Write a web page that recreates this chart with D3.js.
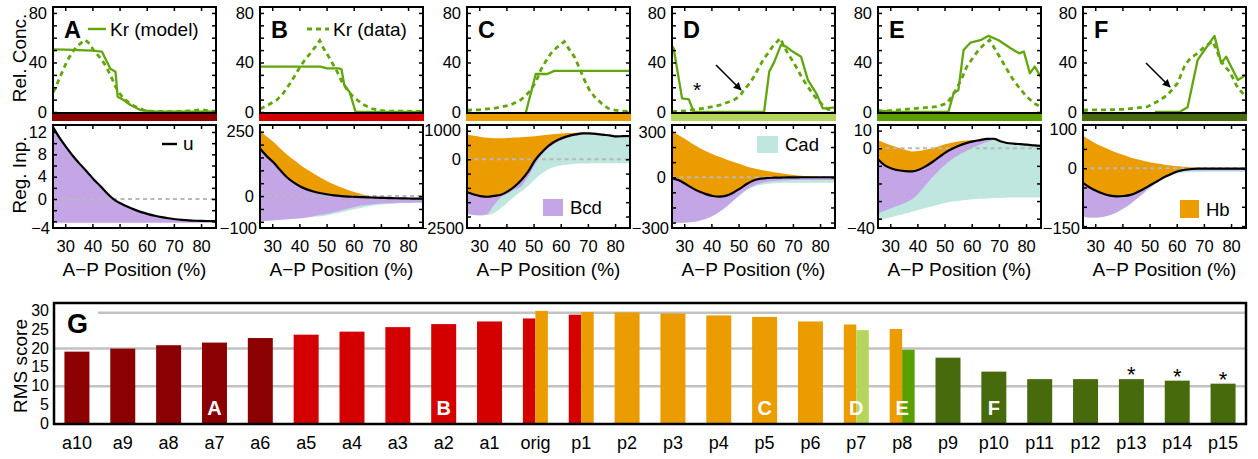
<!DOCTYPE html>
<html>
<head>
<meta charset="utf-8">
<script src="https://cdn.jsdelivr.net/npm/d3@7"></script>
<style>
body { margin: 0; background: #fff; }
text { font-family: "Liberation Sans", Arial, sans-serif; }
</style>
</head>
<body>
<svg id="chart" width="1258" height="459"></svg>
<script>
// ---------- Kr profiles (top row), [A-P position %, relative concentration] ----------
var krModelA = [[25.5,50.5],[30,50.3],[35,50],[40,49.5],[43.5,48.8],[46.6,35],[48.5,32.6],[49.3,12.4],[51.5,9.7],[54,5.7],[57.7,1.6],[62,0.5],[70,0.3],[85.5,0.3]];
var krDataA = [[25.5,16],[26.2,18.3],[28,28],[30.6,40.7],[32.5,48],[34.3,52.8],[36,56],[37.4,58.2],[39,55],[40.4,50],[42,46],[43.5,42],[45,37],[46.6,30],[48.5,20.5],[50,15],[51.5,11],[53.5,7.5],[55.3,4.9],[58.9,1.6],[62,0.5],[70,0.3],[76,0.8],[80,2],[83,0.8],[85.5,0.5]];
var krModelB = [[25.5,36.7],[40,36.7],[47.7,36.7],[50.2,35.3],[54.5,35.3],[55.5,34.5],[56.5,22],[57.5,19],[58.5,16],[60.7,0],[85.5,0]];
var krDataB = [[25.5,2.5],[28,5],[31.7,9.7],[34,15],[36.6,23.2],[38.5,30],[40.3,36.7],[42,42],[44,47.4],[46,53],[47.5,57.7],[49,51],[50.8,44.7],[52.5,38],[53.9,32.6],[55.5,25],[57.6,17.8],[59.5,13],[61.3,9.7],[63.5,6],[66.2,3],[69,1.5],[72.4,0.8],[85.5,0.5]];
var krModelC = [[47.1,-1],[50.8,30.7],[55.1,30.7],[57.6,33.2],[85.5,33.2]];
var krDataC = [[25.5,1.6],[30,1.8],[35.4,3],[41.5,5.7],[45.2,9.7],[47,13],[49,17.8],[51,25],[52.7,34],[54.5,41],[56.4,47.4],[58.5,52],[61.3,56.9],[63,51],[65,44.7],[67,35],[68.7,25.9],[70.5,18],[72.4,12.4],[75,7],[77.4,3],[80,1.5],[82.3,0.8],[85.5,0.5]];
var krModelD = [[25.5,53],[26.1,51.5],[29.2,11],[31.7,10.2],[33.5,0],[59.4,0],[61.3,32.6],[63.2,40.7],[65.6,54.2],[67.5,52.8],[69.9,48.8],[73,44.7],[75.5,25.9],[78.6,15.1],[81,3],[82.3,3],[85.5,3.8]];
var krDataD = [[25.5,0.3],[30,0.8],[37.2,3],[43.4,5.7],[48.3,9.7],[50.5,13],[52,17.8],[54,23],[55.7,28.6],[57.5,36],[59.4,43.4],[61,48],[62.5,52.8],[65.4,59.6],[66.5,54],[68.1,47.4],[70,41],[71.8,34],[73.5,27],[75.5,20.5],[77.5,14],[79.2,9.7],[81,5.5],[82.9,2.2],[85.5,1.5]];
var krModelE = [[25.5,1.6],[27.5,0.8],[30,0.3],[51.4,0],[53.3,15],[55.1,17.8],[57,50],[59.5,56],[63.2,58],[66.2,61.5],[69.9,58],[74.3,51.5],[77.4,47.4],[79.2,48.8],[81.4,31.3],[83.2,36.7],[85.5,28]];
var krDataE = [[25.5,0.3],[32.3,1.6],[39.7,3],[47.1,4.3],[50.8,7],[52.5,12],[54.5,19],[56.5,28],[58.2,36.7],[60.5,44],[62.5,50],[64.5,54.5],[66.6,58.2],[68.5,51],[70.6,43.4],[72.8,35],[74.9,27.2],[77,21],[79.2,15],[81,11],[82.9,7],[85.5,4]];
var krModelF = [[52,0],[61,0],[64,3.8],[67.7,42],[70.2,50],[72,55.5],[73.9,61.5],[76.4,39.4],[78.2,44.7],[82.5,25.9],[85.5,30]];
var krDataF = [[25.5,1.6],[35,1.8],[40.6,2.2],[49.2,4.3],[52.9,8.4],[56.6,13.7],[60.3,23.2],[62.8,36.7],[64.5,42],[65.9,44.7],[68,48],[70.2,52.8],[73.3,56.9],[75,48],[76.4,40.7],[78,36],[79.5,32.6],[81,26],[81.9,21.8],[83.5,17],[85.5,12.4]];

// ---------- regulatory input (bottom row), sampled on gridX ----------
var gridX = [25.5,28,30.5,33,35.5,38,40.5,43,45.5,48,50.5,53,55.5,58,60.5,63,65.5,68,70.5,73,75.5,78,80.5,83,85.5];

var uA     = [12.9,10.9,9.2,7.6,6.2,4.9,3.5,2.3,1.0,-0.1,-0.8,-1.4,-1.9,-2.35,-2.7,-3.0,-3.25,-3.45,-3.62,-3.74,-3.83,-3.89,-3.92,-3.94,-3.95];
var bcdLoA = [-4.25,-4.25,-4.25,-4.25,-4.25,-4.25,-4.25,-4.25,-4.25,-4.25,-4.25,-4.25,-4.25,-4.25,-4.25,-4.25,-4.25,-4.25,-4.25,-4.25,-4.25,-4.25,-4.25,-4.25,-4.25];

var uB     = [185,155,130,100,72,52,36,25,17,11,6,3,0,-2,-3,-4,-5,-6,-7,-8,-8.5,-9,-9.5,-10,-10];
var hbTopB = [255,230,210,185,160,140,120,102,86,70,56,44,33,23,15,7,0,-6,-7,-8,-8.5,-9,-9.5,-10,-10];
var bcdLoB = [-97,-96,-94,-92,-90,-88,-86,-82,-77,-73,-68,-62,-55,-48,-42,-37,-34,-31,-29,-28,-27,-26,-26,-25,-25];
var cadLoB = [-97,-96,-94,-92,-90,-88,-86,-83,-80,-78,-74,-69,-63,-56,-50,-45,-40,-36,-33,-31,-29,-28,-27,-26,-26];

var uC     = [-1150,-1230,-1290,-1310,-1280,-1240,-1120,-950,-720,-430,-40,240,470,630,740,820,870,905,905,890,860,835,800,810,815];
var hbTopC = [860,820,780,750,735,735,745,760,775,790,810,830,855,880,905,920,930,935,905,890,860,835,800,810,815];
var bcdLoC = [-1900,-1950,-1960,-1900,-1600,-1330,-1200,-1060,-940,-600,-200,150,400,560,680,760,820,870,905,890,860,835,800,810,815];
var cadLoC = [-1900,-1950,-1960,-1950,-1880,-1700,-1500,-1300,-1120,-930,-700,-500,-350,-260,-210,-180,-160,-150,-145,-142,-140,-140,-140,-140,-140];

var uD     = [-5,-20,-45,-72,-95,-112,-124,-128,-122,-102,-75,-45,-22,-10,-5,-3,-2,-1,-1,0,0,0,0,0,0];
var hbTopD = [305,278,252,222,195,173,153,135,118,102,87,72,60,50,41,33,26,20,15,10,6,3,1,0,0];
var bcdLoD = [-300,-302,-300,-296,-288,-275,-255,-228,-195,-155,-115,-80,-55,-40,-30,-24,-21,-19,-18,-18,-18,-18,-18,-18,-18];
var cadLoD = [-300,-302,-300,-296,-288,-275,-255,-228,-195,-158,-120,-87,-65,-52,-45,-40,-38,-37,-36,-36,-36,-36,-36,-36,-36];

var uE     = [-6.3,-9.7,-11.5,-12.5,-13,-13.1,-12.2,-10.3,-7.8,-5,-2.3,-0.2,1.6,2.9,3.9,4.6,5.3,5.4,4,3,2.6,2.3,2,1.6,1.3];
var hbTopE = [4.5,3,1.5,0.3,-0.8,-1.8,-1.5,-0.8,0,1.2,2.4,3.3,4,4.4,4.7,5,5.4,5.5,4,3,2.6,2.3,2,1.6,1.3];
var bcdLoE = [-37,-35.5,-34,-32.5,-31,-29,-25.5,-21,-16.5,-12.5,-9,-6,-3.5,-1.5,0.5,2,3.5,4.5,4,3,2.6,2.3,2,1.6,1.3];
var cadLoE = [-40.5,-40,-39,-38,-37,-36,-35,-34,-33,-32,-31,-30.3,-29.8,-29.4,-29,-28.7,-28.5,-28.3,-28.2,-28,-28,-28,-28,-28,-28];

var uF     = [-38,-50,-59,-66,-71,-73,-72,-69,-62,-53,-43,-33,-23,-15,-8,-4,-2,-1,-1,-1,-1,-1,-1,-1,-1];
var hbTopF = [85,73,63,55,47,40,34,28,23,19,15,12,9,7,5,3.5,2.5,1.5,0.8,0,-0.5,-1,-1,-1,-1];
var bcdLoF = [-125,-128,-128,-126,-121,-114,-104,-92,-78,-63,-48,-34,-22,-14,-9,-7,-6,-6,-6,-6,-6,-6,-6,-6,-6];
var cadLoF = [-125,-128,-128,-126,-121,-114,-104,-92,-78,-64,-50,-37,-26,-18,-13,-11,-10,-10,-9,-9,-9,-9,-9,-9,-9];

// tick labels
var xTickLabels = [30, 40, 50, 60, 70, 80];
var topTickLabels = [0, 40, 80];
var botTickLabels = [[12, 8, 4, 0], [250, 0], [1000, 0], [300, 0], [10, 0], [100, 0]];
var botMinLabels = ["\u22124", "\u2212100", "\u22122500", "\u2212300", "\u221240", "\u2212150"];

// ---------- RMS scores (panel G) ----------
var categories = ["a10","a9","a8","a7","a6","a5","a4","a3","a2","a1","orig","p1","p2","p3","p4","p5","p6","p7","p8","p9","p10","p11","p12","p13","p14","p15"];
var rmsMain  = [19.2,20.0,20.9,21.6,22.8,23.7,24.5,25.7,26.5,27.2,28.0,29.0,29.6,29.3,28.8,28.4,27.2,26.4,25.2,17.6,13.9,11.9,11.9,11.9,11.5,10.7];
var rmsSplit = [null,null,null,null,null,null,null,null,null,null,30.0,29.7,null,null,null,null,null,24.9,19.7,null,null,null,null,null,null,null];
var rmsRefLine = 29.5;
var barLetters = {a7: "A", a2: "B", p5: "C", p7: "D", p8: "E", p10: "F"};
var starred = ["p13", "p14", "p15"];

// ---------- styles / layout ----------
var C = {
  dkred: "#8b0000", red: "#d40000", orange: "#eb9c00",
  ltgreen: "#b5d65a", green: "#5a9e00", dkgreen: "#466a0c",
  kr: "#62a60e", bcd: "#c4a5e6", cad: "#bfe6df", hb: "#eb9c00"
};
var mainColor  = [C.dkred,C.dkred,C.dkred,C.dkred,C.dkred,C.red,C.red,C.red,C.red,C.red,C.red,C.red,
                  C.orange,C.orange,C.orange,C.orange,C.orange,C.orange,C.orange,
                  C.dkgreen,C.dkgreen,C.dkgreen,C.dkgreen,C.dkgreen,C.dkgreen,C.dkgreen];
var splitColor = {orig: C.orange, p1: C.orange, p7: C.ltgreen, p8: C.green};
var stripColor = [C.dkred, C.red, C.orange, C.ltgreen, C.green, C.dkgreen];

var panels = [
  {name: "A", model: krModelA, data: krDataA, u: uA, bcdLo: bcdLoA},
  {name: "B", model: krModelB, data: krDataB, u: uB, hbTop: hbTopB, bcdLo: bcdLoB, cadLo: cadLoB},
  {name: "C", model: krModelC, data: krDataC, u: uC, hbTop: hbTopC, bcdLo: bcdLoC, cadLo: cadLoC},
  {name: "D", model: krModelD, data: krDataD, u: uD, hbTop: hbTopD, bcdLo: bcdLoD, cadLo: cadLoD},
  {name: "E", model: krModelE, data: krDataE, u: uE, hbTop: hbTopE, bcdLo: bcdLoE, cadLo: cadLoE},
  {name: "F", model: krModelF, data: krDataF, u: uF, hbTop: hbTopF, bcdLo: bcdLoF, cadLo: cadLoF}
];
var panelLeft = [53, 260, 467, 672, 878, 1083];
var panelW = 163;
var top0 = 7, top1 = 113, bot0 = 125, bot1 = 228;
var botDomain = [[-5.19, 13.25], [-124, 276], [-2402, 1199], [-336, 346], [-45.3, 13.2], [-155, 112]];
var botMinor = [2, 50, 500, 100, 10, 50];

var svg = d3.select("#chart");

function ticksInward(g, axis) {
  g.call(axis);
  g.select(".domain").remove();
  g.selectAll(".tick line").attr("stroke", "#000").attr("stroke-width", 1.5);
  g.selectAll(".tick text").attr("font-size", 16.5).attr("fill", "#000")
    .style("font-family", '"Liberation Sans", Arial, sans-serif');
}

panels.forEach(function (p, i) {
  var L = panelLeft[i], R = L + panelW;
  var x = d3.scaleLinear().domain([25.5, 85.5]).range([L, R]);
  var yT = d3.scaleLinear().domain([-0.8, 84.8]).range([top1, top0]);
  var yB = d3.scaleLinear().domain(botDomain[i]).range([bot1, bot0]);
  var g = svg.append("g");

  // ---- top panel ----
  var clipT = "clipT" + i, clipB = "clipB" + i;
  svg.append("clipPath").attr("id", clipT).append("rect")
    .attr("x", L).attr("y", top0).attr("width", panelW).attr("height", top1 - top0);
  svg.append("clipPath").attr("id", clipB).append("rect")
    .attr("x", L).attr("y", bot0).attr("width", panelW).attr("height", bot1 - bot0);

  var line = d3.line().x(function (d) { return x(d[0]); }).y(function (d) { return yT(d[1]); });
  var gt = g.append("g").attr("clip-path", "url(#" + clipT + ")");
  gt.append("path").attr("d", line(p.data)).attr("fill", "none")
    .attr("stroke", C.kr).attr("stroke-width", 2.8).attr("stroke-dasharray", "5,4");
  gt.append("path").attr("d", line(p.model)).attr("fill", "none")
    .attr("stroke", C.kr).attr("stroke-width", 2.3).attr("stroke-linejoin", "round");

  var yTicksT = d3.range(0, 81, 10);
  ticksInward(g.append("g").attr("transform", "translate(" + L + ",0)"),
    d3.axisLeft(yT).tickValues(yTicksT).tickSizeInner(-4).tickSizeOuter(0).tickPadding(6)
      .tickFormat(function (d) { return topTickLabels.indexOf(d) >= 0 ? d : ""; }));
  ticksInward(g.append("g").attr("transform", "translate(" + R + ",0)"),
    d3.axisRight(yT).tickValues(yTicksT).tickSizeInner(-4).tickSizeOuter(0).tickFormat(""));
  ticksInward(g.append("g").attr("transform", "translate(0," + top0 + ")"),
    d3.axisTop(x).tickValues(xTickLabels).tickSizeInner(-4).tickSizeOuter(0).tickFormat(""));
  g.append("rect").attr("x", L).attr("y", top0).attr("width", panelW).attr("height", top1 - top0)
    .attr("fill", "none").attr("stroke", "#000").attr("stroke-width", 2);
  g.append("rect").attr("x", L - 1).attr("y", 114).attr("width", panelW + 2).attr("height", 7)
    .attr("fill", stripColor[i]);
  g.append("text").attr("x", L + 11).attr("y", 38).attr("font-size", 23.5).attr("font-weight", "bold")
    .text(p.name);

  // ---- bottom panel ----
  var gb = g.append("g").attr("clip-path", "url(#" + clipB + ")");
  function band(lo, hi, color) {
    var area = d3.area().curve(d3.curveMonotoneX)
      .x(function (d, k) { return x(gridX[k]); })
      .y0(function (d, k) { return yB(lo[k]); })
      .y1(function (d, k) { return yB(hi[k]); });
    gb.append("path").attr("d", area(gridX)).attr("fill", color);
  }
  if (p.cadLo) band(p.cadLo, p.u, C.cad);
  band(p.bcdLo, p.u, C.bcd);
  if (p.hbTop) band(p.u, p.hbTop, C.hb);
  gb.append("line").attr("x1", L).attr("x2", R).attr("y1", yB(0)).attr("y2", yB(0))
    .attr("stroke", "#b9b9b9").attr("stroke-width", 2).attr("stroke-dasharray", "4,3.5");
  var uLine = d3.line().curve(d3.curveMonotoneX)
    .x(function (d, k) { return x(gridX[k]); }).y(function (d) { return yB(d); });
  gb.append("path").attr("d", uLine(p.u)).attr("fill", "none")
    .attr("stroke", "#000").attr("stroke-width", 2.2);

  var st = botMinor[i], dom = botDomain[i];
  var yTicksB = d3.range(Math.ceil(dom[0] / st) * st, dom[1] + 1e-9, st);
  ticksInward(g.append("g").attr("transform", "translate(" + L + ",0)"),
    d3.axisLeft(yB).tickValues(yTicksB).tickSizeInner(-4).tickSizeOuter(0).tickPadding(6)
      .tickFormat(function (d) { return botTickLabels[i].indexOf(d) >= 0 ? d : ""; }));
  ticksInward(g.append("g").attr("transform", "translate(" + R + ",0)"),
    d3.axisRight(yB).tickValues(yTicksB).tickSizeInner(-4).tickSizeOuter(0).tickFormat(""));
  ticksInward(g.append("g").attr("transform", "translate(0," + bot0 + ")"),
    d3.axisTop(x).tickValues(xTickLabels).tickSizeInner(-4).tickSizeOuter(0).tickFormat(""));
  ticksInward(g.append("g").attr("transform", "translate(0," + bot1 + ")"),
    d3.axisBottom(x).tickValues(xTickLabels).tickSizeInner(-4).tickSizeOuter(0).tickPadding(12));
  g.append("text").attr("x", L - 3).attr("y", bot1 + 6).attr("text-anchor", "end")
    .attr("font-size", 16.5).text(botMinLabels[i]);
  g.append("rect").attr("x", L).attr("y", bot0).attr("width", panelW).attr("height", bot1 - bot0)
    .attr("fill", "none").attr("stroke", "#000").attr("stroke-width", 2);

  g.append("text").attr("x", L + panelW / 2).attr("y", 276).attr("text-anchor", "middle")
    .attr("font-size", 19).text("A\u2212P Position (%)");
});

// y titles
function vTitle(txt, cx, cy) {
  svg.append("text").attr("transform", "translate(" + cx + "," + cy + ") rotate(-90)")
    .attr("text-anchor", "middle").attr("font-size", 19).text(txt);
}
vTitle("Rel. Conc.", 26, 58);
vTitle("Reg. Inp.", 26, 175);
vTitle("RMS score", 27, 366);

// legends in the profile panels
svg.append("line").attr("x1", 88).attr("x2", 106).attr("y1", 29).attr("y2", 29)
  .attr("stroke", C.kr).attr("stroke-width", 2.4);
svg.append("text").attr("x", 110).attr("y", 35.5).attr("font-size", 19).text("Kr (model)");
svg.append("line").attr("x1", 307).attr("x2", 329).attr("y1", 29).attr("y2", 29)
  .attr("stroke", C.kr).attr("stroke-width", 2.8).attr("stroke-dasharray", "5,4");
svg.append("text").attr("x", 333).attr("y", 35.5).attr("font-size", 19).text("Kr (data)");
svg.append("line").attr("x1", 162).attr("x2", 177).attr("y1", 144).attr("y2", 144)
  .attr("stroke", "#000").attr("stroke-width", 2.4);
svg.append("text").attr("x", 183).attr("y", 150).attr("font-size", 19).text("u");

function swatch(x0, y0, w, h, color, label) {
  svg.append("rect").attr("x", x0).attr("y", y0).attr("width", w).attr("height", h).attr("fill", color);
  svg.append("text").attr("x", x0 + w + 7).attr("y", y0 + h - 2).attr("font-size", 18.5).text(label);
}
swatch(543, 199, 20, 17, C.bcd, "Bcd");
swatch(757, 136, 21, 17, C.cad, "Cad");
swatch(1180, 200, 19, 18, C.hb, "Hb");

// annotations
var defs = svg.append("defs");
defs.append("marker").attr("id", "ah").attr("viewBox", "0 0 10 10").attr("refX", 9).attr("refY", 5)
  .attr("markerWidth", 5).attr("markerHeight", 5).attr("orient", "auto")
  .append("path").attr("d", "M0,0 L10,5 L0,10 Z").attr("fill", "#000");
function arrow(x1, y1, x2, y2) {
  svg.append("line").attr("x1", x1).attr("y1", y1).attr("x2", x2).attr("y2", y2)
    .attr("stroke", "#000").attr("stroke-width", 1.6).attr("marker-end", "url(#ah)");
}
arrow(716, 65, 741, 90);
arrow(1146, 63, 1170, 87);
svg.append("text").attr("x", 697).attr("y", 97).attr("text-anchor", "middle")
  .attr("font-size", 21).text("*");

// ---------- panel G: bars ----------
var gx = d3.scaleBand().domain(categories).range([54, 1246]).paddingInner(0.455).paddingOuter(0.2275);
var gy = d3.scaleLinear().domain([0, 32.1]).range([424, 303]);
var gG = svg.append("g");

[10, 20].forEach(function (v) {
  gG.append("line").attr("x1", 54).attr("x2", 1246).attr("y1", gy(v)).attr("y2", gy(v))
    .attr("stroke", "#c2c2c2").attr("stroke-width", 2.5);
});
gG.append("line").attr("x1", 98).attr("x2", 1246).attr("y1", gy(rmsRefLine)).attr("y2", gy(rmsRefLine))
  .attr("stroke", "#c2c2c2").attr("stroke-width", 2.5);

categories.forEach(function (c, k) {
  var bx = gx(c), bw = gx.bandwidth();
  var hasSplit = rmsSplit[k] !== null;
  var w1 = hasSplit ? bw / 2 : bw;
  gG.append("rect").attr("x", bx).attr("y", gy(rmsMain[k])).attr("width", w1)
    .attr("height", gy(0) - gy(rmsMain[k])).attr("fill", mainColor[k]);
  if (hasSplit) {
    gG.append("rect").attr("x", bx + bw / 2).attr("y", gy(rmsSplit[k])).attr("width", bw / 2)
      .attr("height", gy(0) - gy(rmsSplit[k])).attr("fill", splitColor[c]);
  }
  if (barLetters[c]) {
    gG.append("text").attr("x", bx + bw / 2).attr("y", 415).attr("text-anchor", "middle")
      .attr("font-size", 20).attr("font-weight", "bold").attr("fill", "#fff").text(barLetters[c]);
  }
  if (starred.indexOf(c) >= 0) {
    gG.append("text").attr("x", bx + bw / 2).attr("y", gy(rmsMain[k]) + 3).attr("text-anchor", "middle")
      .attr("font-size", 22).text("*");
  }
  gG.append("text").attr("x", bx + bw / 2).attr("y", 449).attr("text-anchor", "middle")
    .attr("font-size", 18).text(c);
});

d3.range(0, 31, 5).forEach(function (v) {
  gG.append("text").attr("x", 49).attr("y", gy(v) + 5).attr("text-anchor", "end")
    .attr("font-size", 16).text(v);
});
gG.append("rect").attr("x", 54).attr("y", 303).attr("width", 1192).attr("height", 121)
  .attr("fill", "none").attr("stroke", "#000").attr("stroke-width", 2.5);
gG.append("text").attr("x", 67).attr("y", 333).attr("font-size", 27).attr("font-weight", "bold").text("G");
</script>
</body>
</html>
